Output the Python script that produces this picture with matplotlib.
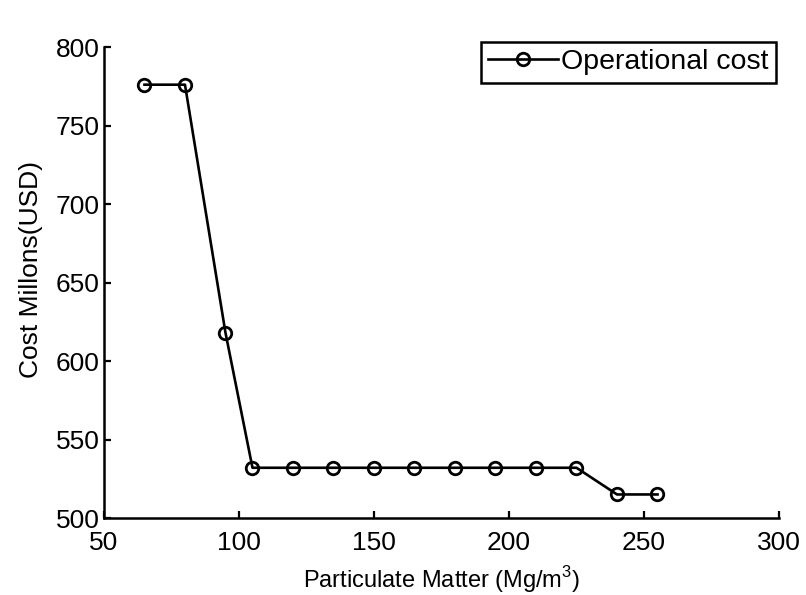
import matplotlib
matplotlib.use('Agg')
import matplotlib.pyplot as plt

plt.rcParams['font.family'] = ['Liberation Sans', 'DejaVu Sans']
plt.rcParams['mathtext.fontset'] = 'custom'
plt.rcParams['mathtext.rm'] = 'Liberation Sans'

# particulate matter levels and operational cost
pm = [65, 80, 95, 105, 120, 135, 150, 165, 180, 195, 210, 225, 240, 255]
cost = [776, 776, 618, 532, 532, 532, 532, 532, 532, 532, 532, 532, 515, 515]

fig = plt.figure(figsize=(8.06, 5.95), dpi=100)
ax = fig.add_axes([0.129, 0.1294, 0.8375, 0.7916])

ax.plot(pm, cost, color='black', linewidth=1.9, marker='o', markersize=9,
        markerfacecolor='none', markeredgewidth=2, label='Operational cost')

ax.set_xlim(50, 300)
ax.set_ylim(500, 800)
ax.set_xticks([50, 100, 150, 200, 250, 300])
ax.set_yticks([500, 550, 600, 650, 700, 750, 800])

for s in ['top', 'right']:
    ax.spines[s].set_visible(False)
for s in ['left', 'bottom']:
    ax.spines[s].set_linewidth(1.8)

ax.tick_params(direction='in', length=5, width=1.6, labelsize=19)
ax.tick_params(axis='x', pad=9)
ax.tick_params(axis='y', pad=3)
ax.set_xlabel('Particulate Matter (Mg/m$^3$)', fontsize=17, labelpad=7)
ax.set_ylabel('Cost Millons(USD)', fontsize=19)
ax.yaxis.set_label_coords(-0.09, 0.527)

leg = ax.legend(loc='upper right', fontsize=20.5, frameon=True, fancybox=False,
                handlelength=2.45, handletextpad=0.12, borderpad=0.25,
                borderaxespad=0, bbox_to_anchor=(0.995, 1.01))
leg.get_frame().set_edgecolor('black')
leg.get_frame().set_linewidth(1.8)
leg.get_frame().set_alpha(1)

fig.savefig('out.png', dpi=100)
